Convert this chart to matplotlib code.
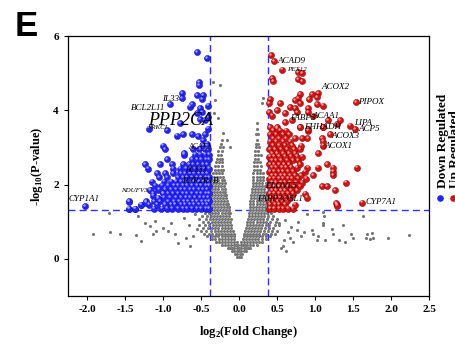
import matplotlib
matplotlib.use("Agg")
import matplotlib.pyplot as plt
import numpy as np

plt.rcParams['font.family'] = 'Liberation Serif'
plt.rcParams['mathtext.fontset'] = 'custom'
plt.rcParams['mathtext.rm'] = 'Liberation Serif:bold'

COLOR_DOWN = '#2222ff'
COLOR_UP = '#d01414'
COLOR_NS = '#767676'
COLOR_LINE = '#2f2fff'

FC_CUT = 0.38
P_CUT = 1.301

# non significant genes, dense part written as rows: (-log10 p, [log2 fc ...])
gray_rows = [
    (0.05, [-0.02, 0.0, 0.02]),
    (0.12, [-0.05, -0.02, 0.01, 0.04]),
    (0.20, [-0.09, -0.06, -0.03, 0.0, 0.03, 0.06, 0.09]),
    (0.28, [-0.15, -0.12, -0.09, -0.06, -0.03, 0.0, 0.03, 0.06, 0.09, 0.12, 0.15]),
    (0.36, [-0.22, -0.18, -0.14, -0.1, -0.07, -0.04, -0.01, 0.02, 0.05, 0.08, 0.11, 0.15, 0.19, 0.23]),
    (0.44, [-0.3, -0.26, -0.22, -0.18, -0.14, -0.1, -0.06, -0.03, 0.03, 0.06, 0.1, 0.14, 0.18, 0.22, 0.26, 0.3]),
    (0.52, [-0.36, -0.31, -0.26, -0.22, -0.18, -0.14, -0.1, -0.06, 0.05, 0.09, 0.13, 0.17, 0.21, 0.25, 0.3, 0.35]),
    (0.60, [-0.42, -0.36, -0.31, -0.27, -0.23, -0.19, -0.15, -0.11, -0.07, 0.06, 0.1, 0.14, 0.18, 0.22, 0.26, 0.3, 0.35, 0.41]),
    (0.68, [-0.46, -0.4, -0.35, -0.3, -0.26, -0.22, -0.18, -0.14, -0.1, -0.07, 0.07, 0.1, 0.14, 0.18, 0.22, 0.26, 0.31, 0.36, 0.42, 0.47]),
    (0.76, [-0.5, -0.43, -0.37, -0.32, -0.28, -0.24, -0.2, -0.16, -0.12, -0.08, 0.08, 0.12, 0.16, 0.2, 0.24, 0.28, 0.33, 0.38, 0.44, 0.5]),
    (0.84, [-0.48, -0.41, -0.36, -0.31, -0.27, -0.23, -0.19, -0.15, -0.11, 0.09, 0.13, 0.17, 0.21, 0.25, 0.29, 0.34, 0.39, 0.45]),
    (0.92, [-0.52, -0.45, -0.39, -0.34, -0.3, -0.26, -0.22, -0.18, -0.14, -0.1, 0.1, 0.14, 0.18, 0.22, 0.26, 0.3, 0.35, 0.4, 0.47, 0.53]),
    (1.00, [-0.47, -0.41, -0.36, -0.32, -0.28, -0.24, -0.2, -0.16, -0.12, 0.11, 0.15, 0.19, 0.23, 0.27, 0.31, 0.36, 0.41, 0.48]),
    (1.08, [-0.53, -0.44, -0.38, -0.34, -0.3, -0.26, -0.22, -0.18, -0.14, -0.11, 0.12, 0.16, 0.2, 0.24, 0.28, 0.32, 0.37, 0.43, 0.5]),
    (1.16, [-0.49, -0.42, -0.37, -0.33, -0.29, -0.25, -0.21, -0.17, -0.13, 0.13, 0.17, 0.21, 0.25, 0.29, 0.33, 0.38, 0.45]),
    (1.24, [-0.45, -0.4, -0.35, -0.31, -0.27, -0.23, -0.19, -0.15, -0.12, 0.13, 0.17, 0.21, 0.25, 0.29, 0.33, 0.37, 0.42]),
    (1.32, [-0.37, -0.33, -0.29, -0.25, -0.21, -0.17, -0.13, 0.14, 0.18, 0.22, 0.26, 0.3, 0.34, 0.37]),
    (1.40, [-0.36, -0.32, -0.28, -0.24, -0.2, -0.16, -0.13, 0.14, 0.18, 0.22, 0.26, 0.3, 0.34, 0.37]),
    (1.48, [-0.37, -0.33, -0.29, -0.25, -0.21, -0.17, -0.14, 0.15, 0.19, 0.23, 0.27, 0.31, 0.35]),
    (1.56, [-0.36, -0.32, -0.28, -0.24, -0.2, -0.16, 0.15, 0.19, 0.23, 0.27, 0.31, 0.35]),
    (1.64, [-0.37, -0.33, -0.29, -0.25, -0.21, -0.17, 0.16, 0.2, 0.24, 0.28, 0.32, 0.36]),
    (1.72, [-0.36, -0.32, -0.28, -0.24, -0.2, -0.17, 0.16, 0.2, 0.24, 0.28, 0.32, 0.36]),
    (1.80, [-0.37, -0.33, -0.29, -0.25, -0.21, -0.18, 0.17, 0.21, 0.25, 0.29, 0.33, 0.37]),
    (1.88, [-0.35, -0.31, -0.27, -0.23, -0.19, 0.17, 0.21, 0.25, 0.29, 0.33]),
    (1.96, [-0.36, -0.32, -0.28, -0.24, -0.2, 0.18, 0.22, 0.26, 0.3, 0.34]),
    (2.04, [-0.34, -0.3, -0.26, -0.22, -0.19, 0.18, 0.22, 0.26, 0.3, 0.35]),
    (2.12, [-0.35, -0.31, -0.27, -0.23, -0.2, 0.19, 0.23, 0.27, 0.31]),
    (2.20, [-0.33, -0.29, -0.25, -0.21, 0.19, 0.23, 0.27, 0.31]),
    (2.30, [-0.34, -0.3, -0.26, -0.22, 0.19, 0.23, 0.27, 0.32]),
    (2.40, [-0.32, -0.28, -0.24, -0.21, 0.2, 0.24, 0.28]),
    (2.50, [-0.31, -0.27, -0.23, 0.2, 0.24, 0.29]),
    (2.60, [-0.3, -0.26, -0.22, 0.2, 0.24, 0.28]),
    (2.70, [-0.29, -0.25, -0.22, 0.21, 0.25]),
    (2.80, [-0.28, -0.24, 0.21, 0.25, 0.29]),
    (2.90, [-0.27, -0.23, 0.21, 0.25]),
    (3.00, [-0.25, -0.21, 0.22, 0.26]),
    (3.10, [-0.24, 0.22, 0.25]),
    (3.20, [-0.23, 0.23]),
    (3.35, [0.22, 0.25]),
    (3.50, [0.23]),
    (3.65, [0.24]),
]

# scattered non significant genes
gray_sparse_x = [-1.92, -1.7, -1.57, -1.71, -1.36, -1.29, -1.33, -1.24, -1.17, -1.1, -1.09, -1.13,
                 -1.0, -0.93, -0.89, -0.84, -0.8, -0.72, -0.66, -0.61, -0.58, -0.7, -0.64, -0.55,
                 -0.34, -0.25, -0.32, -0.33, -0.28, -0.21, -0.16, -0.12, 0.32, 0.3,
                 1.1, 1.12, 1.63, 1.1, 1.1, 1.37, 1.68, 1.75, 1.67, 1.72, 1.76, 1.96, 2.24,
                 1.47, 1.5, 1.32, 1.39, 1.24, 1.22, 1.13, 0.96, 0.97, 1.03, 1.04, 0.85, 0.82,
                 0.76, 0.71, 0.67, 0.64, 0.59, 0.55, 0.52, 0.6, 0.69, 0.78, 0.9, 0.58, 0.62]
gray_sparse_y = [0.68, 0.73, 0.68, 1.22, 0.65, 0.49, 1.14, 0.97, 0.89, 1.03, 0.76, 0.68,
                 0.84, 0.76, 0.95, 0.68, 0.43, 1.1, 0.9, 0.6, 1.2, 0.55, 0.35, 0.8,
                 4.76, 4.68, 4.27, 3.92, 3.78, 3.38, 3.19, 3.0, 4.32, 4.2,
                 1.27, 1.14, 1.16, 0.95, 0.92, 0.92, 0.68, 0.7, 0.57, 0.54, 0.57, 0.57, 0.65,
                 0.68, 0.57, 0.51, 0.46, 0.68, 0.81, 0.51, 0.78, 0.68, 0.51, 0.62, 0.73, 0.62,
                 0.78, 0.46, 0.57, 0.73, 0.51, 0.3, 0.97, 1.05, 0.86, 1.0, 1.2, 0.35, 0.2]

# down regulated genes
down_rows = [
    (1.35, [-1.45, -1.37, -1.12, -1.02, -0.95, -0.88, -0.8, -0.74, -0.68, -0.62, -0.56, -0.5, -0.44, -0.4]),
    (1.45, [-1.29, -1.18, -1.08, -0.98, -0.9, -0.84, -0.77, -0.71, -0.65, -0.59, -0.53, -0.47, -0.42]),
    (1.55, [-1.45, -1.22, -1.12, -1.04, -0.94, -0.86, -0.79, -0.73, -0.67, -0.61, -0.55, -0.49, -0.43, -0.39]),
    (1.65, [-1.07, -0.99, -0.91, -0.83, -0.76, -0.7, -0.64, -0.58, -0.52, -0.46, -0.41]),
    (1.76, [-1.13, -1.0, -0.94, -0.87, -0.8, -0.74, -0.68, -0.62, -0.56, -0.5, -0.44, -0.39]),
    (1.86, [-1.17, -1.06, -0.97, -0.9, -0.83, -0.77, -0.71, -0.65, -0.59, -0.53, -0.47, -0.42]),
    (1.97, [-1.1, -1.02, -0.93, -0.86, -0.8, -0.74, -0.68, -0.62, -0.56, -0.5, -0.44, -0.39]),
    (2.08, [-1.15, -0.99, -0.9, -0.83, -0.77, -0.71, -0.65, -0.59, -0.53, -0.47, -0.41]),
    (2.19, [-1.05, -0.95, -0.8, -0.74, -0.68, -0.62, -0.56, -0.5, -0.44, -0.39]),
    (2.30, [-1.08, -0.97, -0.87, -0.77, -0.71, -0.65, -0.59, -0.53, -0.47, -0.42]),
    (2.42, [-1.2, -0.87, -0.78, -0.7, -0.64, -0.58, -0.52, -0.46, -0.4]),
    (2.55, [-1.24, -1.04, -0.88, -0.74, -0.66, -0.6, -0.54, -0.48, -0.42]),
    (2.68, [-0.95, -0.62, -0.56, -0.5, -0.44, -0.39]),
    (2.80, [-0.73, -0.58, -0.51, -0.45, -0.4]),
    (2.95, [-0.97, -0.6, -0.52, -0.45, -0.41]),
    (3.05, [-1.0, -0.47, -0.42]),
]
down_sparse_x = [-0.55, -0.42, -0.53, -0.53, -0.75, -0.75, -0.91, -0.55, -0.47, -0.49, -0.64, -0.62,
                 -0.41, -0.51, -0.49, -0.55, -0.41, -0.78, -0.51, -0.45, -1.18, -0.95, -0.82, -0.74,
                 -0.62, -0.54, -0.45, -0.41, -0.47, -0.42, -0.73, -2.03, -1.45, -1.45, -1.37, -1.29,
                 -1.22, -1.17, -1.13, -1.07, -1.0]
down_sparse_y = [5.57, 5.4, 4.76, 4.68, 4.46, 4.32, 4.16, 4.4, 4.4, 4.3, 4.1, 4.16,
                 4.13, 4.05, 3.95, 3.92, 3.81, 3.65, 3.76, 3.73, 3.5, 3.46, 3.32, 3.35,
                 3.35, 3.3, 3.35, 3.51, 3.19, 3.1, 2.84, 1.41, 1.54, 1.35, 1.35, 1.46,
                 1.51, 1.84, 1.7, 1.62, 1.76]

# up regulated genes
up_rows = [
    (1.35, [0.4, 0.46, 0.52, 0.58, 0.64, 0.71]),
    (1.45, [0.41, 0.47, 0.53, 0.6, 0.74, 1.29]),
    (1.55, [0.39, 0.45, 0.51, 0.57, 0.63]),
    (1.65, [0.42, 0.48, 0.54, 0.6, 0.67, 0.89]),
    (1.75, [0.4, 0.46, 0.52, 0.58, 0.64, 0.71, 0.87]),
    (1.85, [0.43, 0.49, 0.55, 0.61, 0.68, 0.76, 1.26]),
    (1.95, [0.4, 0.46, 0.52, 0.58, 0.64, 0.72, 0.8, 1.09, 1.16]),
    (2.05, [0.43, 0.49, 0.55, 0.61, 0.67, 0.75, 0.83, 1.41]),
    (2.15, [0.4, 0.46, 0.52, 0.58, 0.64, 0.7, 0.78, 0.88]),
    (2.25, [0.43, 0.49, 0.55, 0.61, 0.67, 0.74, 0.82, 0.97, 1.24]),
    (2.35, [0.4, 0.46, 0.52, 0.58, 0.64, 0.71, 0.87, 1.24]),
    (2.45, [0.43, 0.49, 0.56, 0.62, 0.68, 0.76, 0.9, 1.04, 1.24, 1.55]),
    (2.55, [0.4, 0.46, 0.52, 0.59, 0.66, 0.8, 1.16]),
    (2.65, [0.43, 0.49, 0.55, 0.63, 0.71, 0.78]),
    (2.75, [0.4, 0.46, 0.53, 0.6, 0.68, 0.76, 0.83]),
    (2.85, [0.43, 0.5, 0.58, 0.66, 0.74, 1.04]),
    (2.95, [0.4, 0.47, 0.55, 0.63, 0.72, 0.8]),
    (3.05, [0.44, 0.52, 0.6, 0.7, 0.82, 1.1]),
    (3.15, [0.41, 0.49, 0.58, 0.67, 1.1]),
    (3.25, [0.44, 0.52, 0.62, 0.74, 0.83, 0.9, 1.09]),
    (3.35, [0.41, 0.48, 0.58, 0.66, 1.2]),
    (3.45, [0.44, 0.54, 0.62, 0.91]),
    (3.55, [0.41, 0.5, 0.8, 1.1]),
]
up_sparse_x = [0.42, 0.46, 0.57, 0.78, 0.83, 0.43, 0.45, 0.78, 0.83, 1.04, 0.96, 1.03, 0.8, 0.78,
               0.74, 0.8, 0.41, 0.39, 0.54, 0.67, 0.74, 0.92, 1.03, 1.1, 1.54, 0.91, 0.91, 0.5,
               0.61, 0.76, 0.39, 0.43, 0.61, 0.7, 0.97, 1.17, 1.29, 1.33, 1.46, 1.53, 0.5, 0.8,
               0.91, 1.1, 1.62, 1.28, 1.29]
up_sparse_y = [5.49, 5.32, 5.1, 5.03, 5.0, 4.86, 4.78, 4.84, 4.78, 4.46, 4.43, 4.35, 4.43, 4.32,
               4.27, 4.19, 4.3, 4.19, 4.19, 4.08, 4.05, 4.3, 4.16, 4.13, 4.22, 4.05, 3.95, 4.0,
               3.92, 3.95, 3.95, 3.86, 3.68, 3.73, 3.86, 3.73, 3.62, 3.73, 3.59, 3.49, 3.51, 3.54,
               3.49, 3.54, 1.51, 1.49, 1.43]

# gene labels: name, x, y, size
labels_down = [('IL33', -1.01, 4.31, 6.5), ('BCL2L11', -1.42, 4.05, 6.5), ('PPP2CA', -1.2, 3.73, 13),
               ('PRKCI', -1.21, 3.55, 5), ('ACAT2', -0.67, 3.0, 5.5), ('ACSS3', -0.71, 2.38, 5.5),
               ('PPP2R1B', -0.75, 2.1, 6.5), ('NDUFV3', -1.55, 1.84, 5), ('CYP1A1', -2.24, 1.6, 6.5)]
labels_up = [('ACAD9', 0.5, 5.32, 6.5), ('PEX12', 0.63, 5.1, 5), ('ACOX2', 1.09, 4.62, 6.5),
             ('PIPOX', 1.57, 4.22, 6.5), ('FABP5', 0.67, 3.78, 6.5), ('ACAA1', 0.96, 3.86, 6.5),
             ('EHHADH', 0.86, 3.54, 6.5), ('LIPA', 1.51, 3.67, 6.5), ('ACP5', 1.57, 3.49, 6.5),
             ('ACOX3', 1.22, 3.32, 6.5), ('ACOX1', 1.13, 3.03, 6.5), ('ELOVL5', 0.34, 1.97, 6.5),
             ('FABP3OSL1', 0.24, 1.6, 6.5), ('CYP7A1', 1.67, 1.54, 6.5)]

x_ticks = [-2.0, -1.5, -1.0, -0.5, 0.0, 0.5, 1.0, 1.5, 2.0, 2.5]
y_ticks = [0, 2, 4, 6]


def flatten(rows, xs_extra, ys_extra):
    xs = [x for y, row in rows for x in row] + xs_extra
    ys = [y for y, row in rows for x in row] + ys_extra
    return np.array(xs), np.array(ys)


gx, gy = flatten(gray_rows, gray_sparse_x, gray_sparse_y)
dx, dy = flatten(down_rows, down_sparse_x, down_sparse_y)
ux, uy = flatten(up_rows, up_sparse_x, up_sparse_y)

fig = plt.figure(figsize=(4.56, 3.44), dpi=100)
fig.set_facecolor("white")
ax = fig.add_axes([0.149, 0.140, 0.792, 0.755])

ax.scatter(gx, gy, s=5, color=COLOR_NS, linewidths=0, zorder=2)
ax.scatter(dx, dy, s=20, color=COLOR_DOWN, edgecolors='#1010a0', linewidths=0.3, zorder=3)
ax.scatter(dx - 0.012, dy + 0.04, s=3, color='#9c9cff', linewidths=0, zorder=3)
ax.scatter(ux, uy, s=20, color=COLOR_UP, edgecolors='#7a0000', linewidths=0.3, zorder=3)
ax.scatter(ux - 0.012, uy + 0.04, s=3, color='#ff9a9a', linewidths=0, zorder=3)

ax.axhline(P_CUT, color=COLOR_LINE, lw=1, dashes=(5, 3), zorder=1)
ax.axvline(-FC_CUT, color=COLOR_LINE, lw=1, dashes=(5, 3), zorder=1)
ax.axvline(FC_CUT, color=COLOR_LINE, lw=1, dashes=(5, 3), zorder=1)

for name, x, y, size in labels_down + labels_up:
    ax.text(x, y, name, fontsize=size, style='italic', color='black', va='center', ha='left', zorder=4)

ax.set_xlim(-2.25, 2.5)
ax.set_ylim(-1, 6)
ax.set_xticks(x_ticks)
ax.set_xticklabels([f"{t:.1f}" for t in x_ticks], fontsize=8, fontweight='bold')
ax.set_yticks(y_ticks)
ax.set_yticklabels([str(t) for t in y_ticks], fontsize=8, fontweight='bold')
ax.tick_params(direction='out', length=3, width=0.8)
for sp in ax.spines.values():
    sp.set_linewidth(0.9)

ax.set_xlabel(r'log$_{\mathregular{2}}$(Fold Change)', fontsize=9, fontweight='bold', labelpad=7)
ax.set_ylabel(r'-log$_{\mathregular{10}}$(P-value)', fontsize=9, fontweight='bold', labelpad=6)

fig.text(15 / 456, 1 - 36 / 344, 'E', fontsize=25, fontweight='bold', family='Liberation Sans',
         ha='left', va='baseline')

# rotated legend at the right edge, partly cut off like the original
fig.text(443 / 456, 1 - 188 / 344, 'Down Regulated', rotation=90, fontsize=9.5, fontweight='bold',
         ha='center', va='bottom')
fig.text(455 / 456, 1 - 188 / 344, 'Up Regulated', rotation=90, fontsize=9.5, fontweight='bold',
         ha='center', va='bottom')
leg_ax = fig.add_axes([0, 0, 1, 1], facecolor='none')
leg_ax.set_xlim(0, 456)
leg_ax.set_ylim(344, 0)
leg_ax.axis('off')
leg_ax.scatter([440], [198], s=14, color=COLOR_DOWN)
leg_ax.scatter([453], [198], s=14, color=COLOR_UP)

fig.savefig("out.png", dpi=100)
